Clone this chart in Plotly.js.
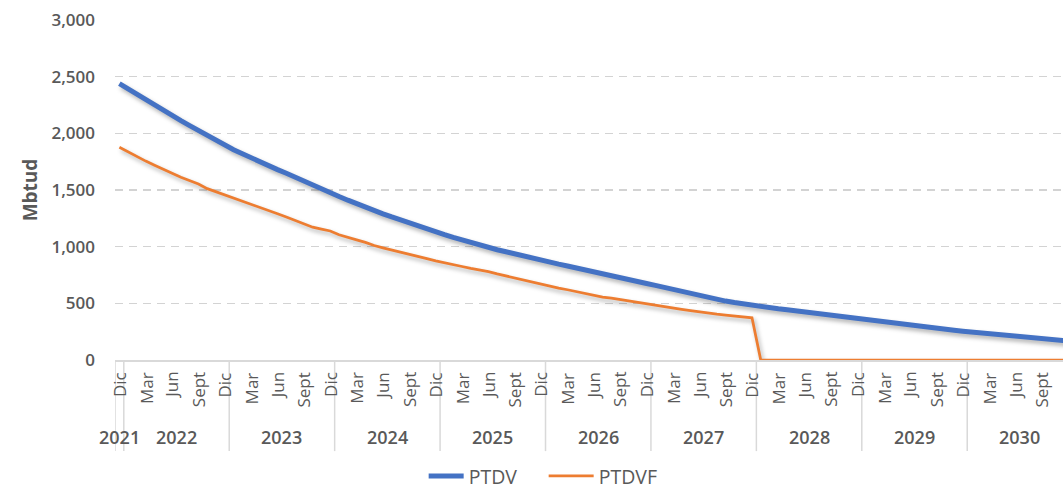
<!DOCTYPE html>
<html>
<head>
<meta charset="utf-8">
<script src="https://cdn.plot.ly/plotly-3.0.1.min.js"></script>
<style>
  html, body { margin: 0; padding: 0; background: #fff; overflow: hidden; }
</style>
</head>
<body>
<div id="myPlot" style="width:1063px;height:490px;"></div>
<script>
// Month names (Spanish) and years on the axis
const monthNames = ["Ene", "Feb", "Mar", "Abr", "May", "Jun", "Jul", "Ago", "Sept", "Oct", "Nov", "Dic"];
const years = [2021, 2022, 2023, 2024, 2025, 2026, 2027, 2028, 2029, 2030];
const tickLabels = ["Dic", "Mar", "Jun", "Sept"];

// Monthly values, Dic 2021 .. Dic 2030 (Mbtud)
const ptdv = [
  2438, 2390, 2342, 2296, 2245, 2200, 2158, 2112, 2068, 2025, 1977, 1935,
  1893, 1855, 1820, 1782, 1750, 1712, 1680, 1648, 1612, 1585, 1548, 1512,
  1476, 1442, 1410, 1378, 1345, 1316, 1290, 1262, 1235, 1208, 1178, 1155,
  1130, 1106, 1082, 1058, 1037, 1013, 992, 973, 955, 935, 918, 900,
  882, 865, 846, 830, 814, 798, 780, 763, 746, 730, 714, 698,
  675, 658, 640, 622, 603, 585, 565, 550, 535, 520, 507, 494,
  484, 472, 462, 452, 443, 433, 424, 414, 404, 395, 385, 376,
  367, 356, 346, 336, 326, 317, 307, 298, 288, 278, 270, 262,
  254, 246, 238, 230, 222, 215, 207, 200, 193, 186, 180, 174,
  168
];
const ptdvf = [
  1878, 1835, 1795, 1755, 1718, 1680, 1648, 1612, 1580, 1553, 1512, 1485,
  1455, 1428, 1400, 1375, 1350, 1320, 1290, 1262, 1232, 1200, 1172, 1155,
  1138, 1105, 1085, 1060, 1038, 1010, 990, 972, 953, 935, 915, 895,
  875, 860, 842, 825, 808, 795, 780, 760, 742, 725, 705, 685,
  668, 648, 635, 620, 603, 585, 570, 555, 545, 532, 518, 505,
  495, 484, 470, 458, 446, 435, 423, 415, 405, 397, 388, 380,
  372, 0, 0, 0, 0, 0, 0, 0, 0, 0, 0, 0,
  0, 0, 0, 0, 0, 0, 0, 0, 0, 0, 0, 0,
  0, 0, 0, 0, 0, 0, 0, 0, 0, 0, 0, 0,
  0
];

// Build category list: Dic 2021 then every month of the following years
const categories = ["Dic " + years[0]];
years.slice(1).forEach((y) => monthNames.forEach((m) => categories.push(m + " " + y)));

const gray = "#595959";
const lineGray = "#d9d9d9";

const shapes = [];
const annotations = [];

// month labels every 3 months starting at Dic 2021 (rotated, tops aligned)
categories.forEach((c, i) => {
  if (i % 3 !== 0) return;
  annotations.push({
    text: tickLabels[(i / 3) % 4], xref: "x", yref: "paper",
    x: i, y: -0.03, xanchor: "center", yanchor: "top", textangle: -90,
    showarrow: false, font: { family: "Open Sans", size: 17, color: gray },
  });
});

// year separators and year labels
const sep = (x) => ({
  type: "line", xref: "x", yref: "paper",
  x0: x, x1: x, y0: 0, y1: -0.268,
  line: { color: lineGray, width: 1.5 },
});
shapes.push(sep(-0.5));
years.forEach((y, k) => {
  const start = k === 0 ? 0 : 1 + (k - 1) * 12;
  const end = k === 0 ? 0 : start + 11;
  shapes.push(sep(end + 0.5));
  annotations.push({
    text: String(y), xref: "x", yref: "paper",
    x: (start + end) / 2, y: -0.226, yanchor: "middle", showarrow: false,
    font: { family: "Open Sans", size: 18, color: gray, weight: 600 },
  });
});

const data = [
  {
    x: categories, y: ptdv, name: "PTDV",
    type: "scatter", mode: "lines",
    line: { color: "#4472C4", width: 5 },
  },
  {
    x: categories, y: ptdvf, name: "PTDVF",
    type: "scatter", mode: "lines",
    line: { color: "#ED7D31", width: 2.75 },
  },
];

const layout = {
  width: 1063,
  height: 490,
  margin: { l: 115, r: 0, t: 20, b: 130, autoexpand: false },
  paper_bgcolor: "#fff",
  plot_bgcolor: "#fff",
  font: { family: "Open Sans", color: gray },
  showlegend: true,
  legend: {
    orientation: "h", x: 0.468, xanchor: "center", y: -0.342, yanchor: "middle",
    font: { size: 19.5, color: gray },
    entrywidth: 85,
    entrywidthmode: "pixels",
    itemgap: 30,
  },
  xaxis: {
    type: "category",
    range: [-0.5, 107.4],
    showticklabels: false,
    showgrid: false,
    showline: true,
    linecolor: lineGray,
    linewidth: 1.5,
    ticks: "",
    automargin: false,
    fixedrange: true,
  },
  yaxis: {
    range: [0, 3000],
    dtick: 500,
    tickformat: ",",
    tickfont: { size: 17, color: gray, weight: 600 },
    showgrid: true,
    gridcolor: "#d3d3d3",
    gridwidth: 1.6,
    griddash: "8px,6px",
    zeroline: true,
    zerolinecolor: lineGray,
    zerolinewidth: 1.5,
    ticks: "",
    ticklabelstandoff: 19,
    automargin: false,
    title: { text: "Mbtud", font: { size: 19, color: gray, weight: 700 }, standoff: 8 },
  },
  shapes: shapes,
  annotations: annotations,
};

const config = { staticPlot: true };

Plotly.newPlot("myPlot", data, layout, config).then(() => {
  // soft shadow under the lines like the original
  document.querySelectorAll(".scatterlayer .js-line").forEach((p) => {
    p.style.filter = "drop-shadow(2px 3px 2px rgba(0,0,0,0.3))";
  });
  // longer legend line samples, as in the original
  document.querySelectorAll(".legend .legendlines path").forEach((p) => {
    p.setAttribute("d", "M-10,0h45");
  });
});
</script>
</body>
</html>
